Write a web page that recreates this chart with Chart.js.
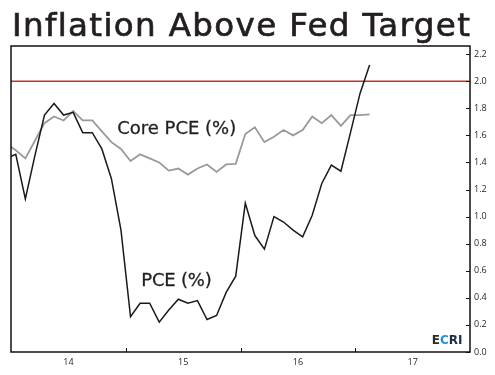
<!DOCTYPE html>
<html><head><meta charset="utf-8">
<script src="https://cdn.jsdelivr.net/npm/chart.js@4/dist/chart.umd.min.js"></script>
<style>html,body{margin:0;padding:0;background:#fff}canvas{display:block}</style>
</head><body>
<canvas id="c" width="495" height="375"></canvas>
<script>
// ---- data (monthly, year-over-year %) ----
const months = ['2013-12',
 '2014-01','2014-02','2014-03','2014-04','2014-05','2014-06','2014-07','2014-08','2014-09','2014-10','2014-11','2014-12',
 '2015-01','2015-02','2015-03','2015-04','2015-05','2015-06','2015-07','2015-08','2015-09','2015-10','2015-11','2015-12',
 '2016-01','2016-02','2016-03','2016-04','2016-05','2016-06','2016-07','2016-08','2016-09','2016-10','2016-11','2016-12',
 '2017-01','2017-02'];
const pce = [1.43,
 1.46,1.13,1.45,1.75,1.835,1.75,1.77,1.62,1.62,1.50,1.28,0.90,
 0.26,0.36,0.36,0.22,0.31,0.39,0.36,0.38,0.24,0.27,0.44,0.56,
 1.10,0.86,0.76,1.00,0.96,0.90,0.85,1.01,1.245,1.38,1.335,1.62,
 1.91,2.12];
const corePce = [1.54,
 1.49,1.43,1.56,1.69,1.74,1.71,1.78,1.71,1.71,1.63,1.55,1.50,
 1.41,1.46,1.43,1.40,1.34,1.355,1.31,1.355,1.385,1.33,1.385,1.39,
 1.61,1.66,1.55,1.59,1.64,1.60,1.64,1.74,1.69,1.75,1.67,1.75,
 1.75,1.755];
const fedTarget = 2.0;
const xTickLabels = ['14','15','16','17'];
const yTicks = [0.0,0.2,0.4,0.6,0.8,1.0,1.2,1.4,1.6,1.8,2.0,2.2];
const titleText = 'Inflation Above Fed Target';
const seriesNames = ['PCE (%)','Core PCE (%)'];

// month string -> position on a year axis (2-digit years, mid-month)
function toX(m){ const [yy,mm]=m.split('-').map(Number); return (yy-2000)+(mm-0.5)/12; }
const xMin = 14, xMax = 18;

const pcePts = months.map((m,i)=>({x:toX(m), y:pce[i]}));
const corePts = months.map((m,i)=>({x:toX(m), y:corePce[i]}));
const targetPts = [{x:xMin,y:fedTarget},{x:xMax,y:fedTarget}];

// label anchors in data units, with target text widths
const labelAnchors = [
  {text: seriesNames[1], x: 14.925, y: 1.607, w: 119},
  {text: seriesNames[0], x: 15.135, y: 0.487, w: 70.5}
];

const ink = '#231f20';
const headFont = '"DejaVu Sans"';

function fitText(ctx, text, x, y, width, stroke){
  ctx.letterSpacing = '0px';
  const w = ctx.measureText(text).width;
  if ('letterSpacing' in ctx){ ctx.letterSpacing = ((width - w)/(text.length-1)).toFixed(2)+'px'; }
  ctx.fillText(text, x, y);
  if (stroke){ ctx.strokeStyle = ctx.fillStyle; ctx.lineWidth = stroke; ctx.strokeText(text, x, y); }
  ctx.letterSpacing = '0px';
}

const deco = {
  id:'deco',
  afterDatasetsDraw(chart){
    const {ctx, chartArea:a, scales:{x,y}} = chart;
    ctx.save();
    // frame
    ctx.strokeStyle = '#111'; ctx.lineWidth = 1.5;
    ctx.strokeRect(a.left, a.top, a.right-a.left, a.bottom-a.top);
    // inward tick marks
    ctx.lineWidth = 1; ctx.strokeStyle = '#111';
    ctx.beginPath();
    for (let yr = xMin+1; yr < xMax; yr++){
      const px = Math.round(x.getPixelForValue(yr))+0.5;
      ctx.moveTo(px, a.bottom); ctx.lineTo(px, a.bottom-4);
    }
    for (const v of yTicks){
      const py = Math.round(y.getPixelForValue(v))+0.5;
      ctx.moveTo(a.right, py); ctx.lineTo(a.right-4, py);
    }
    ctx.stroke();
    // series labels
    ctx.fillStyle = ink;
    ctx.font = '18px ' + headFont;
    ctx.textBaseline = 'alphabetic'; ctx.textAlign = 'left';
    for (const l of labelAnchors){
      fitText(ctx, l.text, x.getPixelForValue(l.x), y.getPixelForValue(l.y), l.w, 0.3);
    }
    // ECRI logo
    ctx.font = 'bold 12px "DejaVu Sans"';
    const parts = [['E','#2b2b2b'],['C','#2a8fd6'],['RI','#1d2b4c']];
    const total = parts.reduce((s,p)=>s+ctx.measureText(p[0]).width,0);
    let px = a.right - 7.5 - total;
    const by = a.bottom - 8.5;
    for (const [t,c] of parts){ ctx.fillStyle=c; ctx.fillText(t, px, by); px += ctx.measureText(t).width; }
    // title
    ctx.fillStyle = ink;
    ctx.font = '32.5px ' + headFont;
    fitText(ctx, titleText, 12, 35.7, a.right - 12, 0.7);
    ctx.restore();
  }
};

new Chart(document.getElementById('c'), {
  type:'line',
  data:{datasets:[
    {data: targetPts, borderColor:'rgb(196,50,38)', borderWidth:1.4, pointRadius:0, order:3, clip:0},
    {data: corePts, borderColor:'#9a9a9a', borderWidth:1.8, pointRadius:0, tension:0, order:2, clip:0},
    {data: pcePts, borderColor:'#1a1a1a', borderWidth:1.5, pointRadius:0, tension:0, order:1, clip:0}
  ]},
  options:{
    responsive:false, animation:false, devicePixelRatio:1,
    layout:{padding:{left:11, top:46, right:0, bottom:0}},
    plugins:{legend:{display:false}, tooltip:{enabled:false}, title:{display:false}},
    scales:{
      x:{type:'linear', min:xMin, max:xMax,
        grid:{display:false, drawTicks:false}, border:{display:false},
        afterBuildTicks: s => { s.ticks = xTickLabels.map((l,i)=>({value: xMin+0.5+i})); },
        ticks:{callback:(v,i)=>xTickLabels[i], font:{family:'Open Sans', size:9}, color:ink, padding:5, maxRotation:0, autoSkip:false},
        afterFit: s => { s.height = 23; }
      },
      y:{type:'linear', position:'right', min:0, max:2.26,
        grid:{display:false, drawTicks:false}, border:{display:false},
        afterBuildTicks: s => { s.ticks = yTicks.map(v=>({value:v})); },
        ticks:{callback:v=>Number(v).toFixed(1), font:{family:'Open Sans', size:9}, color:ink, padding:4, autoSkip:false},
        afterFit: s => { s.width = 25; }
      }
    }
  },
  plugins:[deco]
});
</script>
</body></html>
